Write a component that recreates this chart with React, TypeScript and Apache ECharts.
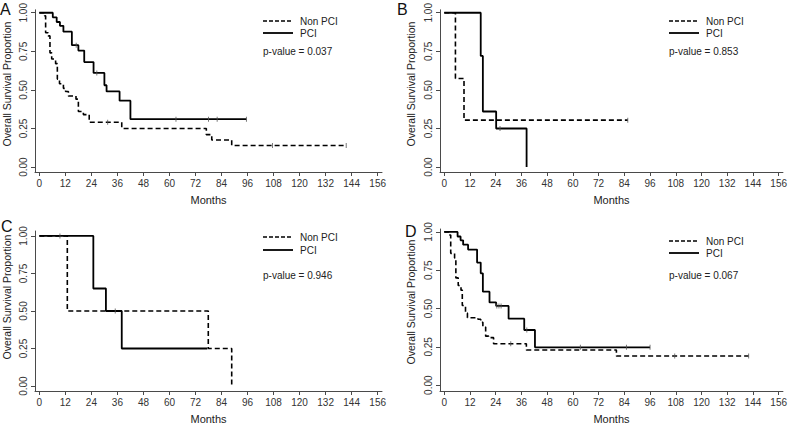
import React, { useEffect, useRef } from "react";
import * as echarts from "echarts";

// Month ticks and survival ticks
const monthTicks = [0, 12, 24, 36, 48, 60, 72, 84, 96, 108, 120, 132, 144, 156];
const survTicks = [0, 0.25, 0.5, 0.75, 1];

// Panel A
const aNonT = [0, 2.3, 2.9, 4.1, 4.9, 5.7, 7.5, 8.3, 9.3, 11.1, 12.1, 13.4, 16.9, 18, 20.3, 23, 38, 77, 79.5, 88.7, 141.5];
const aNonS = [1, 0.98, 0.87, 0.85, 0.74, 0.7, 0.67, 0.57, 0.54, 0.51, 0.49, 0.46, 0.44, 0.36, 0.34, 0.29, 0.25, 0.21, 0.175, 0.14, 0.14];
const aPciT = [0, 6.2, 8, 9.5, 11.1, 15, 18, 20.7, 25, 30, 31, 37, 42, 95.5];
const aPciS = [1, 0.97, 0.94, 0.915, 0.877, 0.79, 0.755, 0.68, 0.61, 0.53, 0.49, 0.43, 0.31, 0.31];
const aNonCens = [31.5, 107.5, 141.5];
const aPciCens = [17, 26.5, 63, 78, 82, 95.5];

// Panel B
const bNonT = [0, 5.2, 9.2, 85.6];
const bNonS = [1, 0.574, 0.304, 0.304];
const bPciT = [0, 17, 18, 24.2, 38.4];
const bPciS = [1, 0.72, 0.36, 0.25, 0];
const bNonCens = [85.6];
const bPciCens = [26];

// Panel C
const cNonT = [0, 12.9, 77.9, 88.7];
const cNonS = [1, 0.5, 0.25, 0];
const cPciT = [0, 24.9, 30.7, 38, 77.5];
const cPciS = [1, 0.65, 0.5, 0.25, 0.25];
const cNonCens: number[] = [];
const cPciCens = [9.5, 35];

// Panel D
const dNonT = [0, 2.2, 3, 4.8, 5.4, 6.5, 7.8, 8.4, 9.9, 10.8, 15.7, 17, 18, 19.3, 20.7, 23, 38.3, 80.3, 142];
const dNonS = [1, 0.98, 0.86, 0.83, 0.7, 0.65, 0.62, 0.52, 0.47, 0.44, 0.43, 0.41, 0.38, 0.32, 0.31, 0.27, 0.23, 0.19, 0.19];
const dPciT = [0, 6.2, 7.6, 8.8, 11.1, 15.3, 17, 18, 21.1, 24.2, 30, 37.3, 42.3, 96];
const dPciS = [1, 0.97, 0.945, 0.917, 0.885, 0.8, 0.73, 0.61, 0.54, 0.517, 0.434, 0.36, 0.247, 0.247];
const dNonCens = [31, 107.5, 142];
const dPciCens = [24.5, 25.5, 26.5, 38.5, 63.5, 85, 96];

const panelLetters = ["A", "B", "C", "D"];
const pValues = ["p-value = 0.037", "p-value = 0.853", "p-value = 0.946", "p-value = 0.067"];
const legendNames = ["Non PCI", "PCI"];
const yAxisName = "Overall Survival Proportion";
const xAxisName = "Months";

const FONT = "'Liberation Sans', Arial, Helvetica, sans-serif";

type Panel = {
  nonT: number[]; nonS: number[]; pciT: number[]; pciS: number[];
  nonC: number[]; pciC: number[];
  left: number; top: number; width: number; height: number; yMin: number; yMax: number;
  letterX: number; letterY: number; nameX: number; nameY: number;
  legX: number; legY1: number; legY2: number; pY: number;
};

const panels: Panel[] = [
  { nonT: aNonT, nonS: aNonS, pciT: aPciT, pciS: aPciS, nonC: aNonCens, pciC: aPciCens,
    left: 35, top: 7, width: 347, height: 165, yMin: -0.032, yMax: 1.019,
    letterX: 0, letterY: 1, nameX: 7, nameY: 84,
    legX: 263, legY1: 21, legY2: 33, pY: 51 },
  { nonT: bNonT, nonS: bNonS, pciT: bPciT, pciS: bPciS, nonC: bNonCens, pciC: bPciCens,
    left: 440, top: 7, width: 346, height: 165, yMin: -0.032, yMax: 1.019,
    letterX: 397, letterY: 1, nameX: 411, nameY: 84,
    legX: 669, legY1: 21, legY2: 33, pY: 51 },
  { nonT: cNonT, nonS: cNonS, pciT: cPciT, pciS: cPciS, nonC: cNonCens, pciC: cPciCens,
    left: 35, top: 231, width: 347, height: 163, yMin: -0.033, yMax: 1.033,
    letterX: 1, letterY: 218, nameX: 7, nameY: 297,
    legX: 263, legY1: 237, legY2: 250, pY: 275 },
  { nonT: dNonT, nonS: dNonS, pciT: dPciT, pciS: dPciS, nonC: dNonCens, pciC: dPciCens,
    left: 440, top: 229, width: 346, height: 166, yMin: -0.038, yMax: 1.019,
    letterX: 405, letterY: 223, nameX: 411, nameY: 302,
    legX: 669, legY1: 241, legY2: 253, pY: 275 },
];

function survAt(ts: number[], ss: number[], t: number): number {
  let v = ss[0];
  for (let i = 0; i < ts.length; i++) if (ts[i] <= t) v = ss[i];
  return v;
}

export default function App() {
  const ref = useRef<HTMLDivElement>(null);
  useEffect(() => {
    if (!ref.current) return;
    const chart = echarts.init(ref.current, null, { renderer: "svg" });
    const grids: any[] = [];
    const xAxes: any[] = [];
    const yAxes: any[] = [];
    const series: any[] = [];
    const graphics: any[] = [];
    const axisColor = "#4a4a4a";
    const textColor = "#333";
    panels.forEach((p, i) => {
      grids.push({ left: p.left, top: p.top, width: p.width, height: p.height, containLabel: false });
      xAxes.push({
        type: "value", gridIndex: i, min: -2, max: 158,
        name: xAxisName, nameLocation: "middle", nameGap: 22,
        nameTextStyle: { fontFamily: FONT, fontSize: 11, color: "#222" },
        axisLine: { show: true, onZero: false, lineStyle: { color: axisColor, width: 1 } },
        axisTick: { show: true, length: 4, customValues: monthTicks, lineStyle: { color: axisColor } },
        axisLabel: { customValues: monthTicks, margin: 6, fontFamily: FONT, fontSize: 10, color: textColor },
        splitLine: { show: false },
      });
      yAxes.push({
        type: "value", gridIndex: i, min: p.yMin, max: p.yMax,
        axisLine: { show: true, onZero: false, lineStyle: { color: axisColor, width: 1 } },
        axisTick: { show: true, length: 4, customValues: survTicks, lineStyle: { color: axisColor } },
        axisLabel: {
          customValues: survTicks, rotate: 90, margin: 7, fontFamily: FONT, fontSize: 10, color: textColor,
          formatter: (v: number) => v.toFixed(2),
        },
        splitLine: { show: false },
      });
      series.push({
        type: "line", xAxisIndex: i, yAxisIndex: i, step: "end", symbol: "none",
        data: p.nonT.map((t, k) => [t, p.nonS[k]]),
        lineStyle: { color: "#000", width: 1.6, type: [5, 3] }, z: 3,
      });
      series.push({
        type: "line", xAxisIndex: i, yAxisIndex: i, step: "end", symbol: "none",
        data: p.pciT.map((t, k) => [t, p.pciS[k]]),
        lineStyle: { color: "#000", width: 1.8 }, z: 4,
      });
      series.push({
        type: "scatter", xAxisIndex: i, yAxisIndex: i, symbol: "rect", symbolSize: [1, 5],
        itemStyle: { color: "#555" },
        data: p.nonC.map((t) => [t, survAt(p.nonT, p.nonS, t)]).concat(
          p.pciC.map((t) => [t, survAt(p.pciT, p.pciS, t)])),
        z: 5,
      });
      graphics.push({
        type: "text", x: p.nameX, y: p.nameY, rotation: Math.PI / 2,
        style: { text: yAxisName, fontFamily: FONT, fontSize: 10.5, fill: "#222", align: "center", verticalAlign: "middle" },
      });
      graphics.push({
        type: "text", x: p.letterX, y: p.letterY,
        style: { text: panelLetters[i], fontFamily: FONT, fontSize: 16, fill: "#111" },
      });
      graphics.push({
        type: "line", shape: { x1: p.legX, y1: p.legY1, x2: p.legX + 30, y2: p.legY1 },
        style: { stroke: "#000", lineWidth: 1.6, lineDash: [4, 2] },
      });
      graphics.push({
        type: "line", shape: { x1: p.legX, y1: p.legY2, x2: p.legX + 30, y2: p.legY2 },
        style: { stroke: "#000", lineWidth: 1.8 },
      });
      graphics.push({
        type: "text", x: p.legX + 37, y: p.legY1,
        style: { text: legendNames[0], fontFamily: FONT, fontSize: 10, fill: "#222", verticalAlign: "middle" },
      });
      graphics.push({
        type: "text", x: p.legX + 37, y: p.legY2,
        style: { text: legendNames[1], fontFamily: FONT, fontSize: 10, fill: "#222", verticalAlign: "middle" },
      });
      graphics.push({
        type: "text", x: p.legX, y: p.pY,
        style: { text: pValues[i], fontFamily: FONT, fontSize: 10, fill: "#222", verticalAlign: "middle" },
      });
    });
    chart.setOption({
      animation: false,
      backgroundColor: "#fff",
      grid: grids,
      xAxis: xAxes,
      yAxis: yAxes,
      series,
      graphic: graphics,
    });
    return () => chart.dispose();
  }, []);
  return (
    <div
      ref={ref}
      style={{ position: "absolute", left: 0, top: 0, width: 790, height: 425, background: "#fff" }}
    />
  );
}
